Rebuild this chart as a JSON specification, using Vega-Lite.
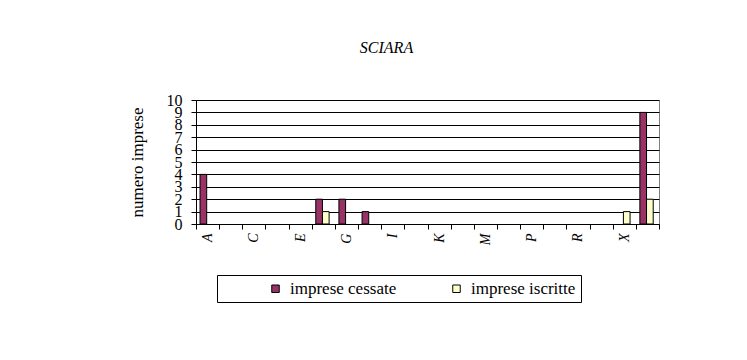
{
  "$schema": "https://vega.github.io/schema/vega-lite/v6.json",
  "width": 463,
  "height": 124,
  "autosize": {"type": "none"},
  "padding": {"left": 196, "top": 100, "right": 88, "bottom": 136},
  "background": "white",
  "title": {
    "text": "SCIARA",
    "font": "Liberation Serif",
    "fontSize": 16,
    "fontStyle": "italic",
    "fontWeight": "normal",
    "color": "black",
    "anchor": "middle",
    "dx": -41,
    "offset": 36
  },
  "data": {
    "values": [
      {"sezione": "A", "serie": "imprese cessate", "numero": 4},
      {"sezione": "F", "serie": "imprese cessate", "numero": 2},
      {"sezione": "F", "serie": "imprese iscritte", "numero": 1},
      {"sezione": "G", "serie": "imprese cessate", "numero": 2},
      {"sezione": "H", "serie": "imprese cessate", "numero": 1},
      {"sezione": "X", "serie": "imprese iscritte", "numero": 1},
      {"sezione": "Totale", "serie": "imprese cessate", "numero": 9},
      {"sezione": "Totale", "serie": "imprese iscritte", "numero": 2}
    ]
  },
  "mark": {"type": "bar", "stroke": "black", "strokeWidth": 1},
  "encoding": {
    "x": {
      "field": "sezione",
      "type": "nominal",
      "sort": null,
      "scale": {
        "domain": ["A","B","C","D","E","F","G","H","I","J","K","L","M","N","P","Q","R","S","X","Totale"],
        "paddingInner": 0,
        "paddingOuter": 0
      },
      "axis": {
        "title": null,
        "labelAngle": -90,
        "labelFont": "Liberation Serif",
        "labelFontStyle": "italic",
        "labelFontSize": 14,
        "labelColor": "black",
        "labelExpr": "indexof(['A','C','E','G','I','K','M','P','R','X'], datum.value) >= 0 ? datum.value : ''",
        "labelOverlap": false,
        "labelPadding": 4,
        "tickBand": "extent",
        "tickSize": 5,
        "tickColor": "black",
        "domainColor": "black",
        "grid": false
      }
    },
    "xOffset": {
      "field": "serie",
      "type": "nominal",
      "sort": ["imprese cessate", "imprese iscritte"],
      "scale": {"domain": ["imprese cessate", "imprese iscritte"], "paddingInner": 0, "paddingOuter": 0.735, "align": 0.41}
    },
    "y": {
      "field": "numero",
      "type": "quantitative",
      "scale": {"domain": [0, 10], "nice": false},
      "axis": {
        "title": "numero imprese",
        "titleFont": "Liberation Serif",
        "titleFontSize": 17,
        "titleFontWeight": "normal",
        "titleColor": "black",
        "titlePadding": 20,
        "values": [0,1,2,3,4,5,6,7,8,9,10],
        "labelFont": "Liberation Serif",
        "labelFontSize": 16,
        "labelColor": "black",
        "labelOverlap": false,
        "labelBound": false,
        "labelFlush": false,
        "labelPadding": 9,
        "tickSize": 5,
        "tickColor": "black",
        "domainColor": "black",
        "grid": true,
        "gridColor": "black",
        "gridOpacity": 1
      }
    },
    "color": {
      "field": "serie",
      "type": "nominal",
      "scale": {
        "domain": ["imprese cessate", "imprese iscritte"],
        "range": ["#993366", "#FFFFCC"]
      },
      "legend": {
        "title": " ",
        "titleOrient": "left",
        "titleFontSize": 11,
        "titlePadding": 45,
        "orient": "none",
        "legendX": 21,
        "legendY": 175,
        "direction": "horizontal",
        "columns": 2,
        "columnPadding": 51,
        "padding": 5,
        "strokeColor": "black",
        "fillColor": "white",
        "symbolType": "square",
        "symbolSize": 56,
        "symbolStrokeColor": "black",
        "symbolStrokeWidth": 1,
        "symbolOpacity": 1,
        "labelFont": "Liberation Serif",
        "labelFontSize": 17,
        "labelColor": "black",
        "labelOffset": 6,
        "labelLimit": 400
      }
    }
  },
  "config": {
    "view": {"stroke": "#808080", "strokeWidth": 1},
    "legend": {"labelFont": "Liberation Serif", "labelFontSize": 17, "titleFont": "Liberation Serif"}
  }
}
